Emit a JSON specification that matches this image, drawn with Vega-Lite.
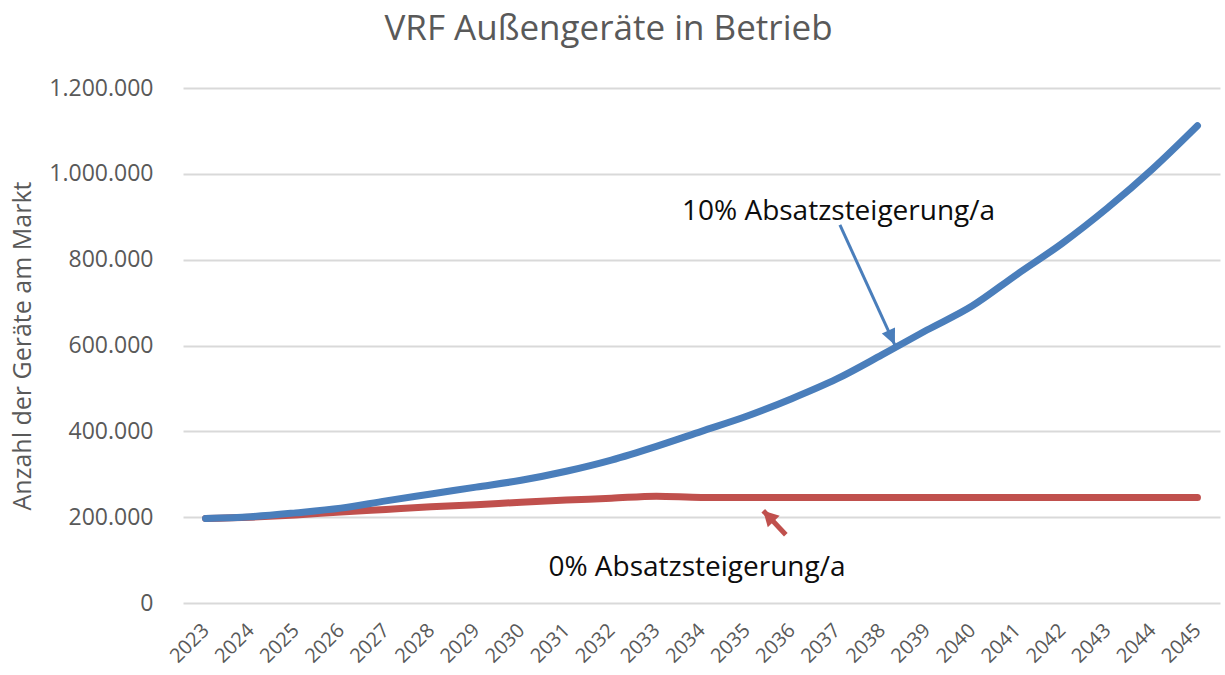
{
  "$schema": "https://vega.github.io/schema/vega-lite/v6.json",
  "width": 1037,
  "height": 515,
  "autosize": "none",
  "padding": {"left": 183, "top": 88, "right": 5, "bottom": 72},
  "background": "white",
  "config": {"view": {"stroke": null}, "font": "Open Sans"},
  "title": {"text": "VRF Außengeräte in Betrieb", "frame": "group", "anchor": "middle", "dx": -93, "offset": 2, "baseline": "alphabetic", "fontSize": 35, "fontWeight": "normal", "color": "#595959", "font": "Open Sans"},
  "datasets": {
    "series": [
      {"year": 2023, "value": 197000, "scenario": "10%"},
      {"year": 2024, "value": 201000, "scenario": "10%"},
      {"year": 2025, "value": 210000, "scenario": "10%"},
      {"year": 2026, "value": 221000, "scenario": "10%"},
      {"year": 2027, "value": 238000, "scenario": "10%"},
      {"year": 2028, "value": 254000, "scenario": "10%"},
      {"year": 2029, "value": 270000, "scenario": "10%"},
      {"year": 2030, "value": 286000, "scenario": "10%"},
      {"year": 2031, "value": 307000, "scenario": "10%"},
      {"year": 2032, "value": 333000, "scenario": "10%"},
      {"year": 2033, "value": 365000, "scenario": "10%"},
      {"year": 2034, "value": 400000, "scenario": "10%"},
      {"year": 2035, "value": 435000, "scenario": "10%"},
      {"year": 2036, "value": 476000, "scenario": "10%"},
      {"year": 2037, "value": 522000, "scenario": "10%"},
      {"year": 2038, "value": 578000, "scenario": "10%"},
      {"year": 2039, "value": 636000, "scenario": "10%"},
      {"year": 2040, "value": 692000, "scenario": "10%"},
      {"year": 2041, "value": 766000, "scenario": "10%"},
      {"year": 2042, "value": 838000, "scenario": "10%"},
      {"year": 2043, "value": 920000, "scenario": "10%"},
      {"year": 2044, "value": 1011000, "scenario": "10%"},
      {"year": 2045, "value": 1112000, "scenario": "10%"},
      {"year": 2023, "value": 197000, "scenario": "0%"},
      {"year": 2024, "value": 200000, "scenario": "0%"},
      {"year": 2025, "value": 205000, "scenario": "0%"},
      {"year": 2026, "value": 212000, "scenario": "0%"},
      {"year": 2027, "value": 218000, "scenario": "0%"},
      {"year": 2028, "value": 224000, "scenario": "0%"},
      {"year": 2029, "value": 229000, "scenario": "0%"},
      {"year": 2030, "value": 235000, "scenario": "0%"},
      {"year": 2031, "value": 240000, "scenario": "0%"},
      {"year": 2032, "value": 244000, "scenario": "0%"},
      {"year": 2033, "value": 249000, "scenario": "0%"},
      {"year": 2034, "value": 246000, "scenario": "0%"},
      {"year": 2035, "value": 246000, "scenario": "0%"},
      {"year": 2036, "value": 246000, "scenario": "0%"},
      {"year": 2037, "value": 246000, "scenario": "0%"},
      {"year": 2038, "value": 246000, "scenario": "0%"},
      {"year": 2039, "value": 246000, "scenario": "0%"},
      {"year": 2040, "value": 246000, "scenario": "0%"},
      {"year": 2041, "value": 246000, "scenario": "0%"},
      {"year": 2042, "value": 246000, "scenario": "0%"},
      {"year": 2043, "value": 246000, "scenario": "0%"},
      {"year": 2044, "value": 246000, "scenario": "0%"},
      {"year": 2045, "value": 246000, "scenario": "0%"}
    ],
    "labels": [
      {"year": 2037.04, "value": 893000, "label": "10% Absatzsteigerung/a"},
      {"year": 2033.9, "value": 64000, "label": "0% Absatzsteigerung/a"}
    ],
    "arrowBlue": [
      {"year": 2037.07, "value": 881000, "year2": 2038.29, "value2": 601000}
    ],
    "arrowRed": [
      {"year": 2035.87, "value": 159000, "year2": 2035.37, "value2": 215000}
    ]
  },
  "layer": [
    {
      "data": {"name": "series"},
      "transform": [{"filter": "datum.scenario === '0%'"}],
      "mark": {"type": "line", "interpolate": "monotone", "color": "#c0504d", "strokeWidth": 7, "strokeCap": "round"},
      "encoding": {
        "x": {
          "field": "year", "type": "quantitative",
          "scale": {"domain": [2022.5, 2045.5], "nice": false, "zero": false},
          "axis": {
            "values": [2023,2024,2025,2026,2027,2028,2029,2030,2031,2032,2033,2034,2035,2036,2037,2038,2039,2040,2041,2042,2043,2044,2045],
            "format": "d", "labelAngle": -45, "labelAlign": "right", "labelBaseline": "middle",
            "labelFontSize": 20, "labelColor": "#595959", "labelFont": "Open Sans", "labelPadding": 24,
            "grid": false, "domain": false, "ticks": false, "title": null, "labelOverlap": false
          }
        },
        "y": {
          "field": "value", "type": "quantitative",
          "scale": {"domain": [0, 1200000], "nice": false},
          "axis": {
            "values": [0, 200000, 400000, 600000, 800000, 1000000, 1200000],
            "labelExpr": "replace(format(datum.value, ',d'), /,/g, '.')",
            "labelFontSize": 23, "labelColor": "#595959", "labelFont": "Open Sans", "labelPadding": 30,
            "grid": true, "gridColor": "#d9d9d9", "gridWidth": 2,
            "domain": false, "ticks": false,
            "title": "Anzahl der Geräte am Markt", "titleFontSize": 25, "titleFontWeight": "normal",
            "titleColor": "#595959", "titleFont": "Open Sans", "titlePadding": 13
          }
        }
      }
    },
    {
      "data": {"name": "series"},
      "transform": [{"filter": "datum.scenario === '10%'"}],
      "mark": {"type": "line", "interpolate": "monotone", "color": "#4a7ebb", "strokeWidth": 7, "strokeCap": "round"},
      "encoding": {
        "x": {"field": "year", "type": "quantitative"},
        "y": {"field": "value", "type": "quantitative"}
      }
    },
    {
      "data": {"name": "arrowBlue"},
      "mark": {"type": "rule", "color": "#4a7ebb", "strokeWidth": 3},
      "encoding": {
        "x": {"field": "year", "type": "quantitative"},
        "y": {"field": "value", "type": "quantitative"},
        "x2": {"field": "year2"},
        "y2": {"field": "value2"}
      }
    },
    {
      "data": {"name": "arrowBlue"},
      "mark": {"type": "point", "shape": "M0,0L-0.45,1L0.45,1Z", "filled": true, "color": "#4a7ebb", "opacity": 1, "size": 1024, "angle": 156, "strokeWidth": 0},
      "encoding": {
        "x": {"field": "year2", "type": "quantitative"},
        "y": {"field": "value2", "type": "quantitative"}
      }
    },
    {
      "data": {"name": "arrowRed"},
      "mark": {"type": "rule", "color": "#c0504d", "strokeWidth": 5},
      "encoding": {
        "x": {"field": "year", "type": "quantitative"},
        "y": {"field": "value", "type": "quantitative"},
        "x2": {"field": "year2"},
        "y2": {"field": "value2"}
      }
    },
    {
      "data": {"name": "arrowRed"},
      "mark": {"type": "point", "shape": "M0,0L-0.55,1L0.55,1Z", "filled": true, "color": "#c0504d", "opacity": 1, "size": 900, "angle": 316, "strokeWidth": 0},
      "encoding": {
        "x": {"field": "year2", "type": "quantitative"},
        "y": {"field": "value2", "type": "quantitative"}
      }
    },
    {
      "data": {"name": "labels"},
      "mark": {"type": "text", "align": "center", "baseline": "alphabetic", "fontSize": 28, "font": "Open Sans", "color": "#0d0d0d"},
      "encoding": {
        "x": {"field": "year", "type": "quantitative"},
        "y": {"field": "value", "type": "quantitative"},
        "text": {"field": "label"}
      }
    }
  ]
}
